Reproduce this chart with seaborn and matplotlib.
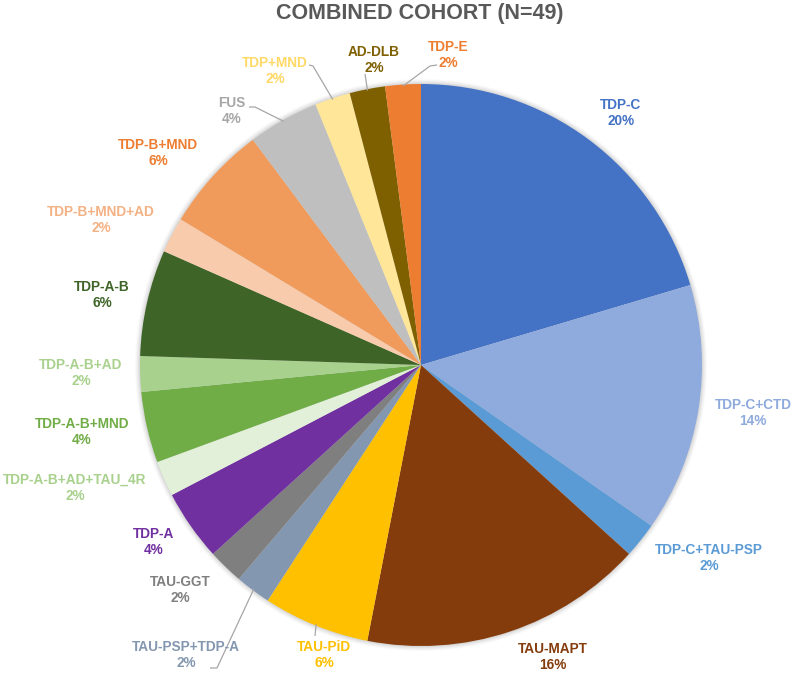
import matplotlib
matplotlib.use("Agg")
import numpy as np
import matplotlib.pyplot as plt
import seaborn as sns
from matplotlib.patches import Circle

# ---------------- data (clockwise from 12 o'clock) ----------------
categories = ["TDP-C", "TDP-C+CTD", "TDP-C+TAU-PSP", "TAU-MAPT", "TAU-PiD",
              "TAU-PSP+TDP-A", "TAU-GGT", "TDP-A", "TDP-A-B+AD+TAU_4R",
              "TDP-A-B+MND", "TDP-A-B+AD", "TDP-A-B", "TDP-B+MND+AD",
              "TDP-B+MND", "FUS", "TDP+MND", "AD-DLB", "TDP-E"]
counts = [10, 7, 1, 8, 3, 1, 1, 2, 1, 2, 1, 3, 1, 3, 2, 1, 1, 1]
slice_colors = ["#4472C4", "#8FAADC", "#5B9BD5", "#843C0C", "#FFC000",
                "#8497B0", "#7F7F7F", "#7030A0", "#E2F0D9",
                "#70AD47", "#A9D18E", "#3F6428", "#F8CBAD",
                "#F09B5B", "#BFBFBF", "#FFE699", "#7F6000", "#ED7D31"]
label_colors = ["#4472C4", "#8FAADC", "#5B9BD5", "#843C0C", "#FFC000",
                "#8497B0", "#7F7F7F", "#7030A0", "#A9D18E",
                "#70AD47", "#A9D18E", "#3F6428", "#F4B183",
                "#ED7D31", "#A6A6A6", "#FFD966", "#7F6000", "#ED7D31"]
title = "COMBINED COHORT (N=49)"

# ---------------- layout (pixel positions of label centres) ----------------
W, H = 797, 673
label_pos = {
    "TDP-C": (621, 113), "TDP-C+CTD": (753, 413), "TDP-C+TAU-PSP": (709, 558),
    "TAU-MAPT": (553, 657), "TAU-PiD": (324, 655), "TAU-PSP+TDP-A": (186, 655),
    "TAU-GGT": (180, 590), "TDP-A": (154, 542), "TDP-A-B+AD+TAU_4R": (75, 488),
    "TDP-A-B+MND": (82, 432), "TDP-A-B+AD": (81, 373), "TDP-A-B": (102, 295),
    "TDP-B+MND+AD": (101, 220), "TDP-B+MND": (158, 153), "FUS": (232, 111),
    "TDP+MND": (275, 71), "AD-DLB": (374, 60), "TDP-E": (448, 55),
}
# label-side points of leader lines (pie-side point comes from the wedge)
leaders = {
    "FUS": [(249, 107), (255, 107)],
    "TDP+MND": [(309, 65), (313, 66)],
    "AD-DLB": [(365, 74)],
    "TDP-E": [(437, 65), (430, 66)],
    "TAU-PSP+TDP-A": [(210, 668), (217, 668)],
    "TAU-PiD": [(315, 636)],
}

sns.set_theme(style="white")
plt.rcParams['font.family'] = ['Liberation Sans', 'DejaVu Sans']

fig = plt.figure(figsize=(W / 100, H / 100), dpi=100)
ax = fig.add_axes([0, 0, 1, 1])

cx, cy, R = 421, H - 365, 281

# soft glow/shadow around the pie
for k, a in [(5, 0.04), (4, 0.05), (3, 0.06), (2, 0.08), (1, 0.10)]:
    ax.add_patch(Circle((cx, cy), R + k, facecolor="#808080", alpha=a, lw=0, zorder=0))

wedges, _ = ax.pie(counts, colors=slice_colors, startangle=90, counterclock=False,
                   center=(cx, cy), radius=R, frame=True,
                   wedgeprops=dict(linewidth=0, zorder=2))

ax.set_xlim(0, W)
ax.set_ylim(0, H)
ax.set_aspect("equal")
ax.axis("off")

total = sum(counts)
for cat, c, col, w in zip(categories, counts, label_colors, wedges):
    px, py = label_pos[cat]
    pct = round(100 * c / total)
    ax.text(px, H - py, f"{cat}\n{pct}%", ha="center", va="center",
            multialignment="center", color=col, fontsize=9.8, fontweight="bold",
            linespacing=1.2, zorder=5)
    if cat in leaders:
        mid = np.deg2rad((w.theta1 + w.theta2) / 2)
        sx, sy = cx + R * 0.995 * np.cos(mid), cy + R * 0.995 * np.sin(mid)
        pts = [(x, H - y) for x, y in leaders[cat]] + [(sx, sy)]
        xs, ys = zip(*pts)
        ax.plot(xs, ys, color="#A6A6A6", lw=0.9, zorder=4, solid_capstyle="butt")

ax.text(420, H - 13, title, ha="center", va="center", fontsize=15.5,
        fontweight="bold", color="#595959")

fig.savefig("out.png", dpi=100, facecolor="white")
